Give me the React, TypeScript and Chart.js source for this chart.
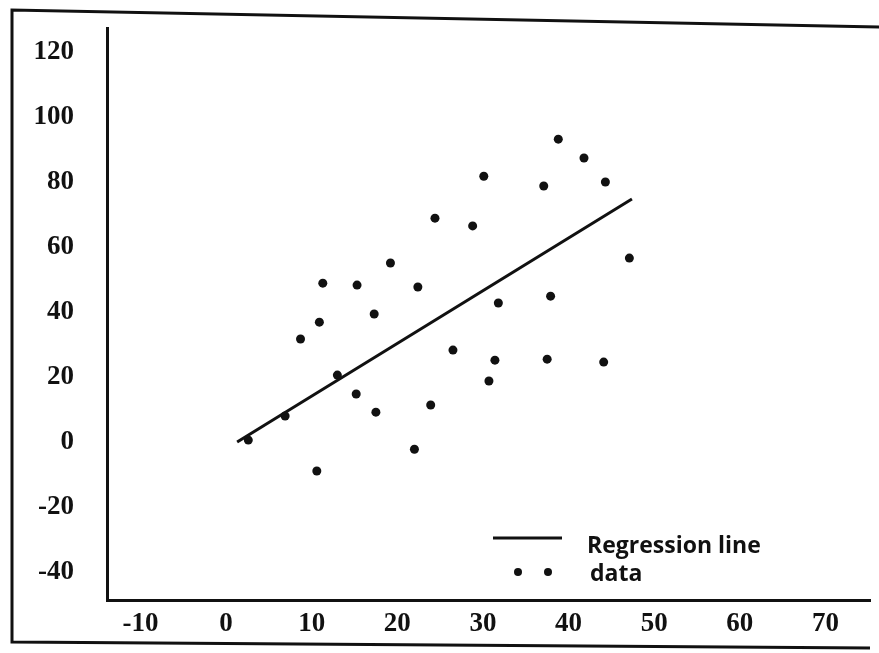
import React, { useEffect, useRef } from 'react';
import { Chart, registerables } from 'chart.js';

Chart.register(...registerables);

// ---- data ----
const xTicks = [-10, 0, 10, 20, 30, 40, 50, 60, 70];
const yTicks = [-40, -20, 0, 20, 40, 60, 80, 100, 120];

const dataX = [2.6, 6.9, 8.7, 10.6, 10.9, 11.3, 13.0, 15.2, 15.3, 17.3, 17.5, 19.2, 22.0, 22.4, 23.9,
  24.4, 26.5, 28.8, 30.1, 30.7, 31.4, 31.8, 37.1, 37.5, 37.9, 38.8, 41.8, 44.1, 44.3, 47.1];
const dataY = [0.6, 8.0, 31.7, -8.9, 36.9, 48.9, 20.6, 14.8, 48.3, 39.4, 9.2, 55.1, -2.2, 47.7, 11.4,
  68.9, 28.3, 66.5, 81.8, 18.8, 25.2, 42.8, 78.8, 25.5, 44.9, 93.2, 87.4, 24.6, 80.0, 56.6];

const regressionX = [1.3, 47.4];
const regressionY = [0, 74.8];

const seriesNames = ['Regression line', 'data'];

const tickFont = { family: "'Liberation Serif', 'DejaVu Serif', serif", weight: 'bold' as const, size: 27 };

const decorPlugin = {
  id: 'decor',
  beforeDraw(chart: any) {
    const ctx = chart.ctx;
    ctx.save();
    ctx.fillStyle = '#ffffff';
    ctx.fillRect(0, 0, chart.width, chart.height);
    ctx.strokeStyle = '#111111';
    ctx.lineWidth = 3;
    ctx.beginPath();
    ctx.moveTo(885, 27);
    ctx.lineTo(12, 10);
    ctx.lineTo(12, 642);
    ctx.lineTo(870, 648);
    ctx.stroke();
    ctx.restore();
  },
  afterDraw(chart: any) {
    const ctx = chart.ctx;
    ctx.save();
    ctx.strokeStyle = '#111111';
    ctx.fillStyle = '#111111';
    ctx.lineWidth = 3;
    ctx.beginPath();
    ctx.moveTo(493, 538);
    ctx.lineTo(562, 538);
    ctx.stroke();
    [518, 548].forEach((cx) => {
      ctx.beginPath();
      ctx.arc(cx, 572, 4, 0, Math.PI * 2);
      ctx.fill();
    });
    ctx.font = "bold 23px 'Open Sans', Lato, sans-serif";
    ctx.textBaseline = 'middle';
    ctx.textAlign = 'left';
    ctx.fillText(seriesNames[0], 587, 546);
    ctx.fillText(seriesNames[1], 590, 574);
    ctx.restore();
  },
};

export default function App() {
  const ref = useRef<HTMLCanvasElement>(null);
  useEffect(() => {
    if (!ref.current) return;
    const chart = new Chart(ref.current, {
      type: 'scatter',
      data: {
        datasets: [
          {
            type: 'line',
            label: seriesNames[0],
            data: regressionX.map((x, i) => ({ x, y: regressionY[i] })),
            borderColor: '#111111',
            borderWidth: 3,
            pointRadius: 0,
            fill: false,
          },
          {
            type: 'scatter',
            label: seriesNames[1],
            data: dataX.map((x, i) => ({ x, y: dataY[i] })),
            backgroundColor: '#111111',
            borderColor: '#111111',
            pointRadius: 4.5,
            borderWidth: 0,
          },
        ],
      },
      options: {
        responsive: false,
        animation: false,
        layout: { padding: { top: 28, right: 9, left: 0, bottom: 0 } },
        plugins: { legend: { display: false }, tooltip: { enabled: false } },
        scales: {
          x: {
            type: 'linear',
            min: -13.9,
            max: 75.2,
            grid: { display: false, drawTicks: false },
            border: { display: true, color: '#111111', width: 3 },
            afterBuildTicks: (s: any) => { s.ticks = xTicks.map((v) => ({ value: v })); },
            afterFit: (s: any) => { s.height = 53; s.paddingLeft = 0; s.paddingRight = 0; },
            ticks: { color: '#111111', font: tickFont, padding: 8, maxRotation: 0, autoSkip: false },
          },
          y: {
            type: 'linear',
            min: -48.6,
            max: 127.4,
            grid: { display: false, drawTicks: false },
            border: { display: true, color: '#111111', width: 3 },
            afterBuildTicks: (s: any) => { s.ticks = yTicks.map((v) => ({ value: v })); },
            afterFit: (s: any) => { s.width = 107; s.paddingTop = 0; s.paddingBottom = 0; },
            ticks: { color: '#111111', font: tickFont, padding: 33, autoSkip: false },
          },
        },
      },
      plugins: [decorPlugin],
    });
    return () => chart.destroy();
  }, []);
  return (
    <div style={{ position: 'absolute', left: 0, top: 0, width: 879, height: 653, background: '#fff' }}>
      <canvas ref={ref} width={879} height={653} />
    </div>
  );
}
